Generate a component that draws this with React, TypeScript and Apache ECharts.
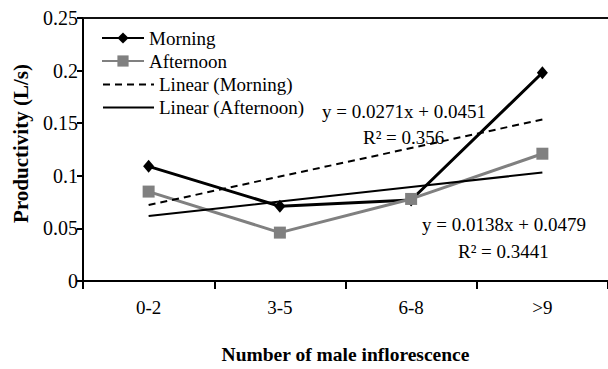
import React, { useEffect, useRef } from "react";
import * as echarts from "echarts";

const categories = ["0-2", "3-5", "6-8", ">9"];
const morning = [0.109, 0.071, 0.077, 0.198];
const afternoon = [0.085, 0.046, 0.078, 0.121];
const morningTrend = [0.0722, 0.0993, 0.1264, 0.1535];
const afternoonTrend = [0.0617, 0.0755, 0.0893, 0.1031];
const yTicks = { min: 0, max: 0.25, interval: 0.05 };
const eqMorning = ["y = 0.0271x + 0.0451", "R\u00b2 = 0.356"];
const eqAfternoon = ["y = 0.0138x + 0.0479", "R\u00b2 = 0.3441"];

const FONT = "'Liberation Serif', 'Times New Roman', serif";

export default function App() {
  const ref = useRef<HTMLDivElement>(null);
  useEffect(() => {
    document.body.style.margin = "0";
    document.body.style.overflow = "hidden";
    if (!ref.current) return;
    const chart = echarts.init(ref.current, undefined, { renderer: "svg" });
    const txt = (text: string, x: number, y: number) => ({
      type: "text",
      left: x,
      top: y,
      style: { text, font: `19px ${FONT}`, fill: "#000" },
    });
    chart.setOption({
      animation: false,
      backgroundColor: "#fff",
      grid: { left: 83, top: 18, width: 540, height: 279 },
      legend: [
        {
          orient: "vertical",
          left: 101,
          top: 28.5,
          padding: 0,
          itemWidth: 42,
          itemHeight: 14,
          itemGap: 4,
          data: ["Morning", "Afternoon"],
          textStyle: { fontFamily: FONT, fontSize: 19, color: "#000" },
        },
        {
          orient: "vertical",
          left: 102,
          top: 75,
          padding: 0,
          itemWidth: 51,
          itemHeight: 14,
          itemGap: 4,
          itemStyle: { opacity: 0 },
          data: ["Linear (Morning)", "Linear (Afternoon)"],
          textStyle: { fontFamily: FONT, fontSize: 19, color: "#000" },
        },
      ],
      xAxis: [
        {
          type: "category",
          data: categories,
          boundaryGap: true,
          name: "Number of male inflorescence",
          nameLocation: "middle",
          nameGap: 63,
          nameTextStyle: { fontFamily: FONT, fontSize: 19.5, fontWeight: "bold", color: "#000" },
          axisLine: { lineStyle: { color: "#000", width: 2 } },
          axisTick: { show: true, length: 8, lineStyle: { color: "#000", width: 2 } },
          axisLabel: { fontFamily: FONT, fontSize: 19, color: "#000", margin: 17 },
        },
        {
          type: "category",
          data: categories,
          position: "top",
          axisLine: { show: true, lineStyle: { color: "#111", width: 2 } },
          axisTick: { show: false },
          axisLabel: { show: false },
        },
      ],
      yAxis: {
        type: "value",
        min: yTicks.min,
        max: yTicks.max,
        interval: yTicks.interval,
        name: "Productivity (L/s)",
        nameLocation: "middle",
        nameGap: 52,
        nameTextStyle: {
          fontFamily: FONT,
          fontSize: 21,
          fontWeight: "bold",
          color: "#000",
          padding: [0, 0, 0, 12],
        },
        splitLine: { show: false },
        axisLine: { show: true, lineStyle: { color: "#000", width: 2 } },
        axisTick: { show: true, length: 6, lineStyle: { color: "#000", width: 2 } },
        axisLabel: { fontFamily: FONT, fontSize: 20, color: "#000", margin: 5 },
      },
      series: [
        {
          name: "Morning",
          type: "line",
          data: morning,
          symbol: "diamond",
          symbolSize: [11, 13],
          lineStyle: { color: "#000", width: 3 },
          itemStyle: { color: "#000" },
        },
        {
          name: "Afternoon",
          type: "line",
          data: afternoon,
          symbol: "rect",
          symbolSize: 12,
          lineStyle: { color: "#808080", width: 3 },
          itemStyle: { color: "#808080" },
        },
        {
          name: "Linear (Morning)",
          type: "line",
          data: morningTrend,
          symbol: "none",
          lineStyle: { color: "#000", width: 2, type: [7, 5] },
          itemStyle: { color: "#000" },
        },
        {
          name: "Linear (Afternoon)",
          type: "line",
          data: afternoonTrend,
          symbol: "none",
          lineStyle: { color: "#000", width: 2 },
          itemStyle: { color: "#000" },
        },
      ],
      graphic: [
        txt(eqMorning[0], 322, 102),
        txt(eqMorning[1], 363, 128),
        txt(eqAfternoon[0], 422, 215),
        txt(eqAfternoon[1], 458, 242),
      ],
    });
    return () => chart.dispose();
  }, []);
  return <div ref={ref} style={{ width: 608, height: 369 }} />;
}
